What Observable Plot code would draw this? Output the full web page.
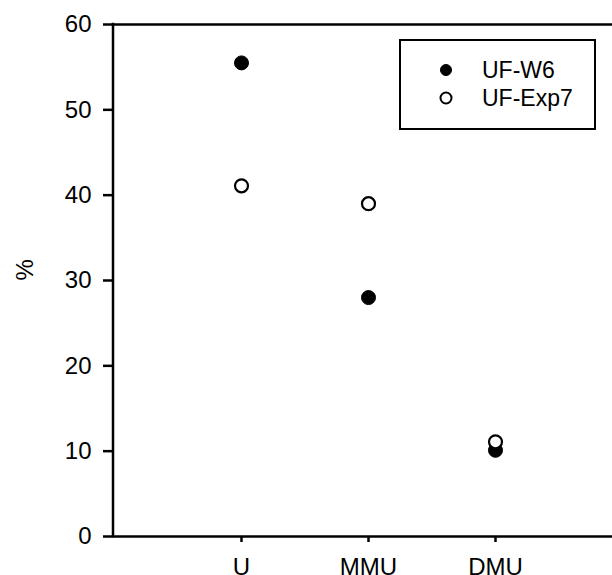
<!DOCTYPE html>
<html>
<head>
<meta charset="utf-8">
<script src="https://cdn.jsdelivr.net/npm/d3@7"></script>
<script src="https://cdn.jsdelivr.net/npm/@observablehq/plot@0.6"></script>
<style>
  html, body { margin: 0; padding: 0; background: white; overflow: hidden; }
  #wrap { position: relative; width: 612px; height: 575px; overflow: hidden; font-family: "Liberation Sans", Arial, sans-serif; }
  #wrap > svg { max-width: none !important; display: block; }
  #legend { position: absolute; left: 399px; top: 39px; width: 197px; height: 91px; box-sizing: border-box; border: 2px solid black; background: white; }
  #legend svg { display: block; }
</style>
</head>
<body>
<div id="wrap"></div>
<script>
const categories = ["U", "MMU", "DMU"];
const ufW6 = [55.5, 28.0, 10.1];
const ufExp7 = [41.1, 39.0, 11.1];
const yTicks = [0, 10, 20, 30, 40, 50, 60];
const seriesNames = ["UF-W6", "UF-Exp7"];

const rowsW6 = categories.map((c, i) => ({cat: c, value: ufW6[i], series: seriesNames[0]}));
const rowsExp7 = categories.map((c, i) => ({cat: c, value: ufExp7[i], series: seriesNames[1]}));

const chart = Plot.plot({
  width: 612,
  height: 575,
  marginLeft: 113,
  marginTop: 24,
  marginBottom: 39,
  marginRight: 0,
  style: {fontFamily: "Liberation Sans, Arial, sans-serif", fontSize: "24px", background: "white", color: "black", maxWidth: "none"},
  x: {type: "point", domain: categories, range: [113, 623], padding: 1, axis: null},
  y: {domain: [0, 60], range: [536, 24], axis: null},
  marks: [
    Plot.ruleY([yTicks[0], yTicks[yTicks.length - 1]], {stroke: "black", strokeWidth: 2.5}),
    Plot.axisY(yTicks, {tickSize: 10, tickPadding: 12, strokeWidth: 2.5, label: null, fontSize: 24}),
    Plot.axisX(categories, {tickSize: 6, tickPadding: 15, strokeWidth: 2.5, label: null, fontSize: 24}),
    Plot.text(["%"], {frameAnchor: "left", dx: -88, rotate: -90, fontSize: 24, fill: "black"}),
    Plot.dot(rowsW6, {x: "cat", y: "value", r: 7, fill: "black", stroke: "black", strokeWidth: 1}),
    Plot.dot(rowsExp7, {x: "cat", y: "value", r: 6.5, fill: "white", stroke: "black", strokeWidth: 2.2})
  ]
});

// left axis line drawn from the plot's own y scale
const ys = chart.scale("y");
d3.select(chart).insert("line", ":nth-child(3)")
  .attr("x1", 113).attr("x2", 113)
  .attr("y1", ys.apply(yTicks[yTicks.length - 1]) - 1.25)
  .attr("y2", ys.apply(yTicks[0]) + 1.25)
  .attr("stroke", "black").attr("stroke-width", 2.5);

const wrap = document.getElementById("wrap");
wrap.appendChild(chart);

// Legend
const legend = document.createElement("div");
legend.id = "legend";
const ns = "http://www.w3.org/2000/svg";
const lsvg = document.createElementNS(ns, "svg");
lsvg.setAttribute("width", 193);
lsvg.setAttribute("height", 87);
const styles = [
  {fill: "black", stroke: "black", sw: 1},
  {fill: "white", stroke: "black", sw: 2}
];
seriesNames.forEach((name, i) => {
  const cy = 29 + i * 28;
  const c = document.createElementNS(ns, "circle");
  c.setAttribute("cx", 45);
  c.setAttribute("cy", cy);
  c.setAttribute("r", 5.5);
  c.setAttribute("fill", styles[i].fill);
  c.setAttribute("stroke", styles[i].stroke);
  c.setAttribute("stroke-width", styles[i].sw);
  lsvg.appendChild(c);
  const t = document.createElementNS(ns, "text");
  t.setAttribute("x", 81);
  t.setAttribute("y", cy);
  t.setAttribute("dy", "0.35em");
  t.setAttribute("font-size", 23);
  t.setAttribute("font-family", "Liberation Sans, Arial, sans-serif");
  t.textContent = name;
  lsvg.appendChild(t);
});
legend.appendChild(lsvg);
wrap.appendChild(legend);
</script>
</body>
</html>
